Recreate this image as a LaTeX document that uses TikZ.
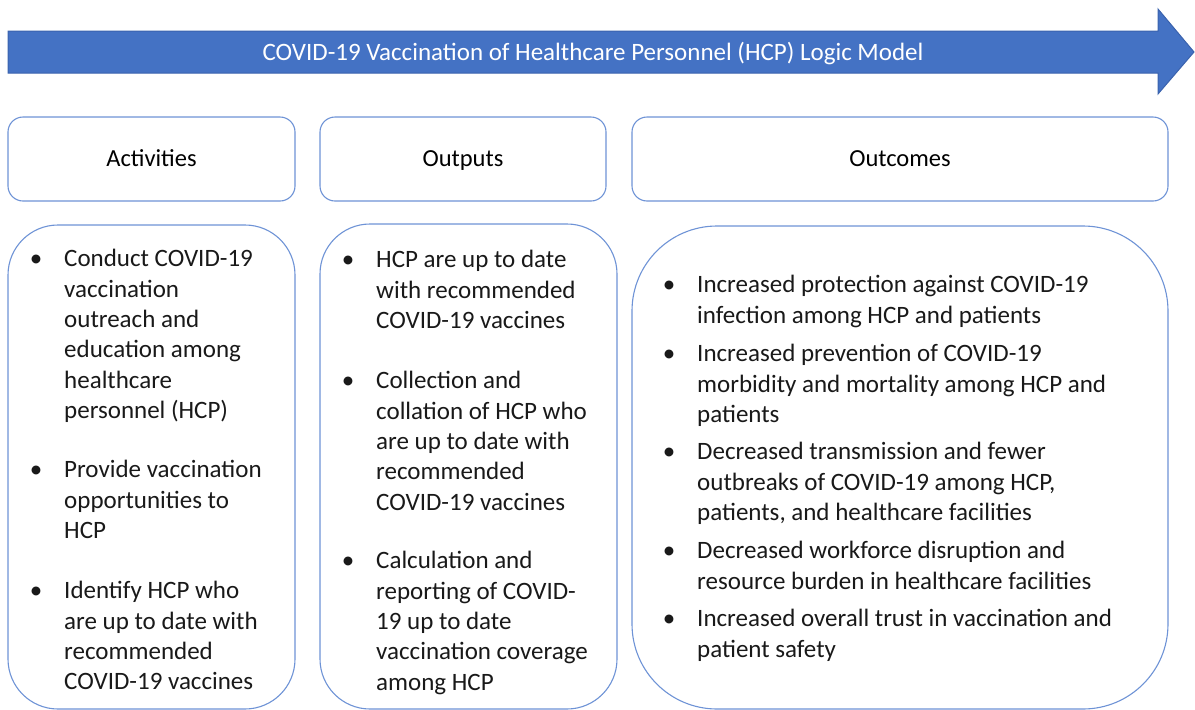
\documentclass[tikz,border=0pt]{standalone}
\usepackage{fontspec}
\setmainfont{Carlito}
\definecolor{arrowfill}{HTML}{4472C4}
\definecolor{arrowedge}{HTML}{3A62AD}
\definecolor{boxedge}{HTML}{6E93D6}
\begin{document}
\begin{tikzpicture}[x=1pt,y=-1pt,
  headbox/.style={draw=boxedge, line width=1.1pt, rounded corners=15pt, fill=white,
    font=\fontsize{24.5}{28}\selectfont, text=black, text height=18pt, text depth=4pt},
  bodybox/.style={draw=boxedge, line width=1.1pt, fill=white},
  para/.style={anchor=north west, inner sep=0pt, align=left,
    font=\fontsize{25}{30.4}\selectfont, text=black!90},
  bul/.style={anchor=base, inner sep=0pt, font=\fontsize{25}{30.4}\selectfont, text=black!90}]
\useasboundingbox (0,0) rectangle (1195,710);

% banner arrow
\draw[fill=arrowfill, draw=arrowedge, line width=1pt]
  (8,31) -- (1158,31) -- (1158,9) -- (1194,52) -- (1158,94) -- (1158,73) -- (8,73) -- cycle;
\node[text=white, font=\fontsize{25}{28}\selectfont] (title) at (593,54)
  {COVID-19 Vaccination of Healthcare Personnel (HCP) Logic Model};

% column headers
\node[headbox, minimum width=287pt, minimum height=84pt] (acth) at (151.5,159) {Activities};
\node[headbox, minimum width=286pt, minimum height=84pt] (outh) at (463,159) {Outputs};
\node[headbox, minimum width=536pt, minimum height=84pt] (ocmh) at (900,159) {Outcomes};

% column bodies
\node[bodybox, rounded corners=50pt, minimum width=287pt, minimum height=484pt] (actb) at (151.5,467) {};
\node[bodybox, rounded corners=50pt, minimum width=297pt, minimum height=485pt] (outb) at (468.5,466.5) {};
\node[bodybox, rounded corners=85pt, minimum width=536pt, minimum height=483pt] (ocmb) at (900,467.5) {};

% Activities
\node[bul] (ab1) at (36,266.5) {•};
\node[para] (a1) at (64,245.2) {\strut Conduct COVID-19\\vaccination\\outreach and\\education among\\healthcare\\personnel (HCP)};
\node[bul] (ab2) at (36,477.5) {•};
\node[para] (a2) at (64,456.2) {\strut Provide vaccination\\opportunities to\\HCP};
\node[bul] (ab3) at (36,598.5) {•};
\node[para] (a3) at (64,577.2) {\strut Identify HCP who\\are up to date with\\recommended\\COVID-19 vaccines};

% Outputs
\node[bul] (ob1) at (348,267.5) {•};
\node[para] (o1) at (376,246.2) {\strut HCP are up to date\\with recommended\\COVID-19 vaccines};
\node[bul] (ob2) at (348,388.5) {•};
\node[para] (o2) at (376,367.2) {\strut Collection and\\collation of HCP who\\are up to date with\\recommended\\COVID-19 vaccines};
\node[bul] (ob3) at (348,568.5) {•};
\node[para] (o3) at (376,547.2) {\strut Calculation and\\reporting of COVID-\\19 up to date\\vaccination coverage\\among HCP};

% Outcomes
\node[bul] (cb1) at (669,292.5) {•};
\node[para] (c1) at (697,271.2) {\strut Increased protection against COVID-19\\infection among HCP and patients};
\node[bul] (cb2) at (669,361.5) {•};
\node[para] (c2) at (697,340.2) {\strut Increased prevention of COVID-19\\morbidity and mortality among HCP and\\patients};
\node[bul] (cb3) at (669,459.5) {•};
\node[para] (c3) at (697,438.2) {\strut Decreased transmission and fewer\\outbreaks of COVID-19 among HCP,\\patients, and healthcare facilities};
\node[bul] (cb4) at (669,558.5) {•};
\node[para] (c4) at (697,537.2) {\strut Decreased workforce disruption and\\resource burden in healthcare facilities};
\node[bul] (cb5) at (669,626.5) {•};
\node[para] (c5) at (697,605.2) {\strut Increased overall trust in vaccination and\\patient safety};
\end{tikzpicture}
\end{document}
